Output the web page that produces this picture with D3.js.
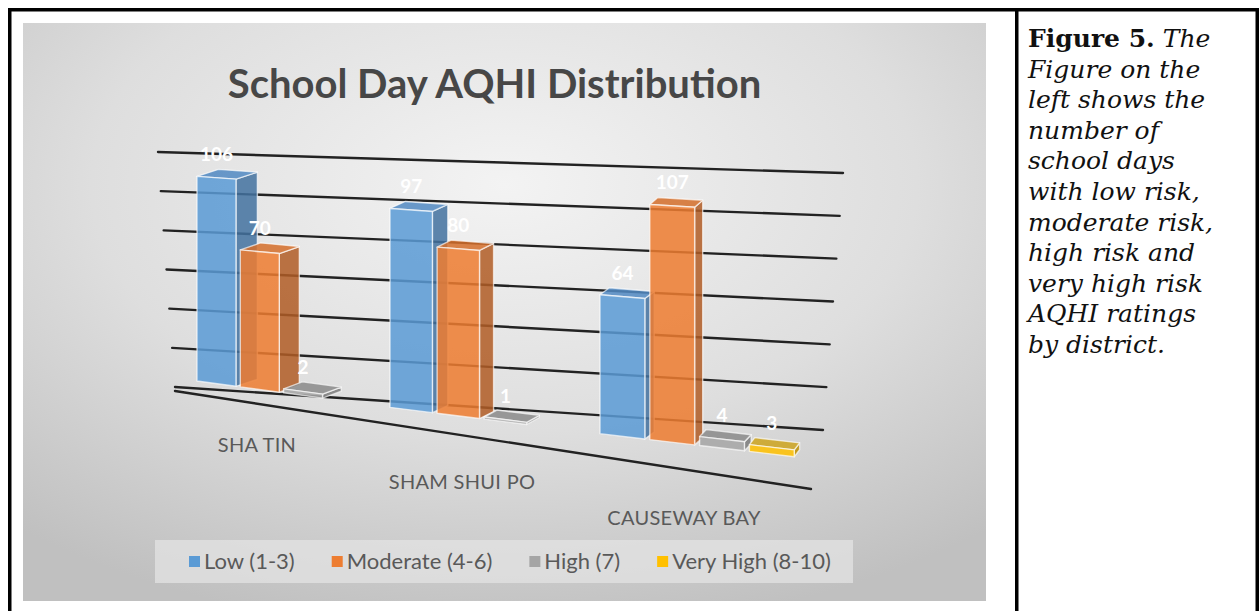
<!DOCTYPE html>
<html><head><meta charset="utf-8">
<script src="https://cdn.jsdelivr.net/npm/d3@7"></script>
<style>body{margin:0;background:#fff}svg{display:block}</style>
</head><body>
<svg id="c" width="1259" height="611"></svg>
<script>
// ---------- data ----------
const categories = ["SHA TIN", "SHAM SHUI PO", "CAUSEWAY BAY"];
const seriesNames = ["Low (1-3)", "Moderate (4-6)", "High (7)", "Very High (8-10)"];
const lowValues = [106, 97, 64];
const moderateValues = [70, 80, 107];
const highValues = [2, 1, 4];
const veryHighValues = [0, 0, 3];
const yTicks = [0, 20, 40, 60, 80, 100, 120];
const chartTitle = "School Day AQHI Distribution";
const captionBold = "Figure 5.";
const captionLines = [" The", "Figure on the", "left shows the", "number of", "school days",
  "with low risk,", "moderate risk,", "high risk and", "very high risk", "AQHI ratings", "by district."];

const seriesValues = [lowValues, moderateValues, highValues, veryHighValues];
const faceColors = [
  {front:"#5b9bd5", side:"#44729f", top:"#5189c2"},
  {front:"#ed7d31", side:"#b15d26", top:"#d46f2b"},
  {front:"#a5a5a5", side:"#7b7b7b", top:"#8b8b8b"},
  {front:"#ffc000", side:"#bf9000", top:"#cda421"}
];

const svg = d3.select("#c");
const defs = svg.append("defs");

// ---------- page frame ----------
const chartBox = {x:23, y:23, w:963, h:578};
const rg = defs.append("radialGradient").attr("id","bg")
  .attr("cx","50%").attr("cy","28%").attr("r","78%");
rg.append("stop").attr("offset","0%").attr("stop-color","#f3f3f3");
rg.append("stop").attr("offset","55%").attr("stop-color","#dedede");
rg.append("stop").attr("offset","100%").attr("stop-color","#c0c0c0");
svg.append("rect").attr("x",chartBox.x).attr("y",chartBox.y)
  .attr("width",chartBox.w).attr("height",chartBox.h).attr("fill","url(#bg)");

const frame = svg.append("g").attr("stroke","#000").attr("stroke-width",3.5);
frame.append("line").attr("x1",8).attr("x2",1259).attr("y1",9.75).attr("y2",9.75);
frame.append("line").attr("x1",9.75).attr("x2",9.75).attr("y1",8).attr("y2",611);
frame.append("line").attr("x1",1016.75).attr("x2",1016.75).attr("y1",8).attr("y2",611);
frame.append("line").attr("x1",1257.25).attr("x2",1257.25).attr("y1",8).attr("y2",611);

// ---------- caption ----------
const cap = svg.append("text").attr("font-family","DejaVu Serif").attr("font-size",25)
  .attr("fill","#111");
cap.append("tspan").attr("x",1028).attr("y",47).attr("font-weight","bold").text(captionBold);
cap.append("tspan").attr("font-style","italic").text(captionLines[0]);
captionLines.slice(1).forEach((t,i)=>{
  cap.append("tspan").attr("x",1028).attr("y",47+30.6*(i+1)).attr("font-style","italic").text(t);
});

// ---------- title ----------
svg.append("text").attr("x",chartBox.x+chartBox.w/2 - 10).attr("y",98)
  .attr("text-anchor","middle").attr("font-family","Lato").attr("font-weight","bold")
  .attr("font-size",40).attr("fill","#474747").text(chartTitle);

// ---------- pseudo-3D scales ----------
const catBand = d3.scaleBand().domain(categories).range([0,3]).padding(0);
const serBand = d3.scaleBand().domain(seriesNames).range([0,0.875]).paddingInner(0.1).paddingOuter(0);
const xP = d3.scaleLinear().domain([0,1,2,3]).range([197,390,600,822]);
const baseY = d3.scaleLinear().domain([0,3]).range([381,460]);
const unitPx = d3.scaleLinear().domain([0,3]).range([1.93,2.29]);
const depthDx = d3.scaleLinear().domain([0,2.5]).range([22,7]);
const depthDy = -7;
const P = (u,v)=>[xP(u), baseY(u) - v*unitPx(u)];

// back wall gridlines
const wallLX = d3.scaleLinear().domain([0,120]).range([175,158]);
const wallLY = d3.scaleLinear().domain([0,120]).range([387,152]);
const wallRX = d3.scaleLinear().domain([0,120]).range([823,843]);
const wallRY = d3.scaleLinear().domain([0,120]).range([430,173]);

const plot = svg.append("g");
plot.selectAll("line.grid").data(yTicks).join("line").attr("class","grid")
  .attr("x1",d=>wallLX(d)).attr("y1",d=>wallLY(d))
  .attr("x2",d=>wallRX(d)).attr("y2",d=>wallRY(d))
  .attr("stroke","#222").attr("stroke-width",2.4).attr("stroke-linecap","round");
// floor front edge
plot.append("line").attr("x1",wallLX(0)).attr("y1",wallLY(0)+4)
  .attr("x2",811).attr("y2",489)
  .attr("stroke","#222").attr("stroke-width",2.4).attr("stroke-linecap","round");

// bars
const bars = [];
categories.forEach((c,ci)=>{
  seriesNames.forEach((s,si)=>{
    const v = seriesValues[si][ci];
    if (!v) return;
    const u0 = catBand(c) + serBand(s), u1 = u0 + serBand.bandwidth();
    bars.push({c, s, si, v, u0, u1});
  });
});
const poly = pts => "M" + pts.map(p=>p.join(",")).join("L") + "Z";
const barG = plot.selectAll("g.bar").data(bars).join("g").attr("class","bar");
barG.each(function(d){
  const g = d3.select(this);
  const dx = depthDx((d.u0+d.u1)/2);
  const a = P(d.u0,0), b = P(d.u1,0), t1 = P(d.u1,d.v), t0 = P(d.u0,d.v);
  const sh = p => [p[0]+dx, p[1]+depthDy];
  const col = faceColors[d.si];
  const st = {"stroke":"rgba(255,255,255,0.65)","stroke-width":1.4,"stroke-linejoin":"round","fill-opacity":0.86};
  const add = (pts, fill) => {
    const p = g.append("path").attr("d",poly(pts)).attr("fill",fill);
    Object.entries(st).forEach(([k,val])=>p.attr(k,val));
  };
  add([b, t1, sh(t1), sh(b)], col.side);
  add([t0, t1, sh(t1), sh(t0)], col.top);
  add([a, b, t1, t0], col.front);
});

// data labels
plot.selectAll("text.lbl").data(bars).join("text").attr("class","lbl")
  .attr("x",d=>xP((d.u0+d.u1)/2))
  .attr("y",d=>P((d.u0+d.u1)/2,d.v)[1]-17)
  .attr("text-anchor","middle").attr("font-family","Lato").attr("font-weight","bold")
  .attr("font-size",19).attr("fill","#ffffff").text(d=>d.v);

// category labels
const catLabelX = d3.scaleLinear().domain([0,1,2]).range([257,462,684]);
const catLabelY = d3.scaleLinear().domain([0,2]).range([445,518]);
svg.selectAll("text.cat").data(categories).join("text").attr("class","cat")
  .attr("x",(d,i)=>catLabelX(i))
  .attr("y",(d,i)=>catLabelY(i)+7)
  .attr("text-anchor","middle").attr("font-family","Lato").attr("font-size",20)
  .attr("letter-spacing",0.3).attr("fill","#595959").text(d=>d);

// ---------- legend ----------
const legend = svg.append("g");
legend.append("rect").attr("x",155).attr("y",540).attr("width",698).attr("height",43)
  .attr("fill","#e3e3e3").attr("fill-opacity",0.75);
let lx = 189;
seriesNames.forEach((s,i)=>{
  legend.append("rect").attr("x",lx).attr("y",556).attr("width",11).attr("height",11)
    .attr("fill",faceColors[i].front);
  const t = legend.append("text").attr("x",lx+15).attr("y",569).attr("font-family","Lato")
    .attr("font-size",22).attr("fill","#595959").text(s);
  lx += 15 + t.node().getComputedTextLength() + 37;
});
</script>
</body></html>
